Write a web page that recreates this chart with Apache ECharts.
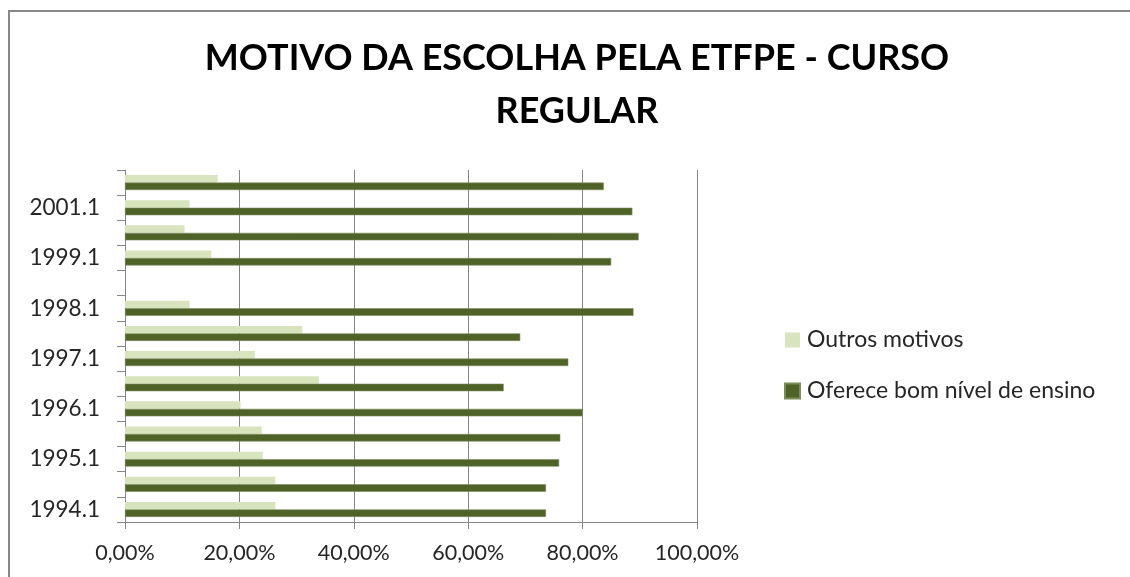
<!DOCTYPE html>
<html>
<head>
<meta charset="utf-8">
<script src="https://cdn.jsdelivr.net/npm/echarts@6/dist/echarts.min.js"></script>
<style>
  html, body { margin: 0; padding: 0; background: #fff; }
  #chart { width: 1130px; height: 577px; }
</style>
</head>
<body>
<div id="chart"></div>
<script>
// categorias (semestres), de baixo para cima
var semestres = ['1994.1', '1994.2', '1995.1', '1995.2', '1996.1', '1996.2', '1997.1',
                 '1997.2', '1998.1', '1998.2', '1999.1', '1999.2', '2001.1', '2001.2'];
// percentuais
var outros   = [26.3, 26.3, 24.1, 23.9, 20.2, 33.9, 22.7, 31.0, 11.3, null, 15.1, 10.4, 11.3, 16.2];
var oferece  = [73.6, 73.6, 75.9, 76.1, 80.0, 66.2, 77.5, 69.1, 88.9, null, 85.0, 89.8, 88.7, 83.7];
var xTicks = [0, 20, 40, 60, 80, 100];

var fonte = 'Lato, "Open Sans", sans-serif';
var myChart = echarts.init(document.getElementById('chart'));

var option = {
    animation: false,
    textStyle: { fontFamily: fonte },
    title: {
        text: 'MOTIVO DA ESCOLHA PELA ETFPE - CURSO\nREGULAR',
        left: 572,
        textAlign: 'center',
        top: 27,
        textStyle: {
            fontFamily: fonte,
            fontSize: 36,
            fontWeight: 'bold',
            color: '#000',
            lineHeight: 53
        }
    },
    // moldura do grafico
    graphic: [{
        type: 'rect',
        shape: { x: 9, y: 11, width: 1140, height: 600 },
        style: { fill: 'none', stroke: '#888', lineWidth: 2 },
        silent: true
    }],
    legend: {
        orient: 'vertical',
        left: 779,
        top: 323,
        itemWidth: 15,
        itemHeight: 15,
        itemGap: 27,
        icon: 'rect',
        data: ['Outros motivos', 'Oferece bom nível de ensino'],
        textStyle: { fontFamily: fonte, fontSize: 23, lineHeight: 24, color: '#262626', padding: [0, 0, 0, 2] }
    },
    grid: {
        left: 125,
        right: 433,
        top: 170,
        bottom: 55,
        containLabel: false
    },
    xAxis: {
        type: 'value',
        min: xTicks[0],
        max: xTicks[xTicks.length - 1],
        interval: 20,
        axisLine: { show: true, lineStyle: { color: '#868686', width: 1 } },
        axisTick: { show: true, length: 7, lineStyle: { color: '#868686' } },
        splitLine: { show: true, lineStyle: { color: '#868686', width: 1 } },
        axisLabel: {
            margin: 20,
            fontSize: 21.5,
            color: '#262626',
            formatter: function (v) { return v.toFixed(2).replace('.', ',') + '%'; }
        }
    },
    yAxis: {
        type: 'category',
        data: semestres,
        axisLine: { show: true, lineStyle: { color: '#868686', width: 1 } },
        axisTick: { show: true, interval: 0, length: 8, lineStyle: { color: '#868686' } },
        axisLabel: { interval: 1, margin: 25, fontSize: 22.5, color: '#262626' }
    },
    series: [
        {
            name: 'Outros motivos',
            type: 'bar',
            data: outros,
            barWidth: 7.5,
            barGap: '0%',
            itemStyle: { color: '#D7E4BD' }
        },
        {
            name: 'Oferece bom nível de ensino',
            type: 'bar',
            data: oferece,
            barWidth: 7.5,
            barGap: '0%',
            itemStyle: { color: '#4F6228', borderColor: '#7d8c5c', borderWidth: 0.6 }
        }
    ]
};
myChart.setOption(option);
</script>
</body>
</html>
